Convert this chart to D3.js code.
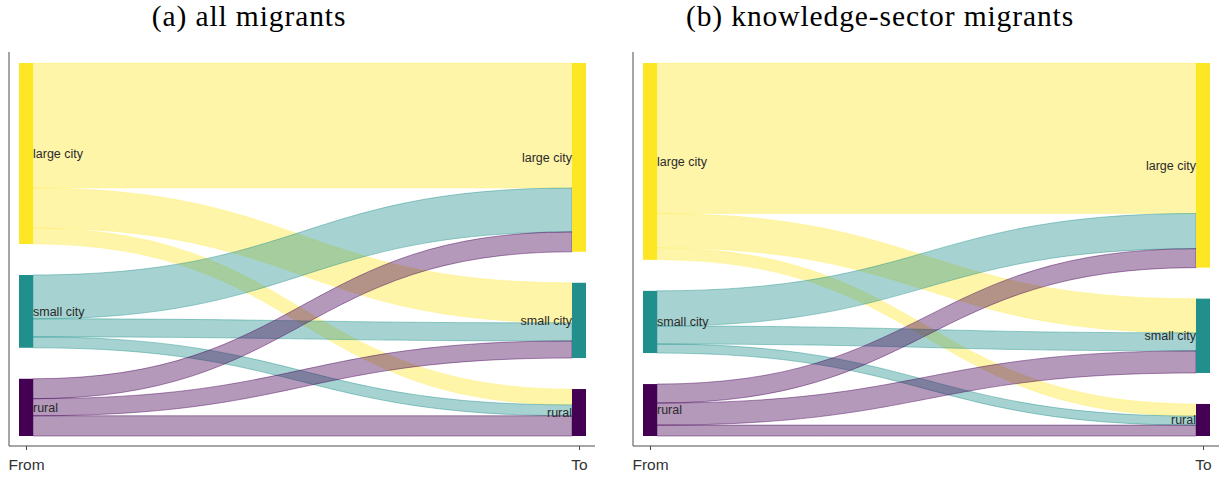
<!DOCTYPE html>
<html>
<head>
<meta charset="utf-8">
<script src="https://cdn.jsdelivr.net/npm/d3@7"></script>
<style>
  html, body { margin: 0; padding: 0; background: #ffffff; }
  svg { display: block; }
</style>
</head>
<body>
<svg id="chart" width="1225" height="477"></svg>
<script>
// Places of origin / destination, in stacking order
const places = ["large city", "small city", "rural"];
const placeColors = ["#FDE725", "#21908C", "#440154"];
const stages = ["From", "To"];
const panelTitles = ["(a) all migrants", "(b) knowledge-sector migrants"];

// Share of moves (%) — rows: origin place, columns: destination place
const allMigrants = [
  [40.2, 12.9, 5.1],
  [14.1, 5.8, 3.5],
  [6.4, 5.5, 6.5]
];
const knowledgeMigrants = [
  [48.4, 11.0, 3.9],
  [11.3, 5.8, 2.9],
  [6.1, 7.1, 3.5]
];

const panelFlows = [allMigrants, knowledgeMigrants];

const svg = d3.select("#chart");

const panelOffset = 624;
const frame = { left: 9, right: 595, top: 52, bottom: 446 };
const plotTop = 63, plotBottom = 436;
const nodeGap = 31;
const nodeW = 14;

panelFlows.forEach((flows, p) => {
  const g = svg.append("g").attr("transform", `translate(${p * panelOffset},0)`);

  // Panel caption
  g.append("text")
    .attr("x", p === 0 ? 249 : 256)
    .attr("y", 26)
    .attr("text-anchor", "middle")
    .attr("font-family", "'Liberation Serif', 'DejaVu Serif', serif")
    .attr("font-size", 29.5)
    .attr("letter-spacing", 0.9)
    .attr("fill", "#000")
    .text(panelTitles[p]);

  const x = d3.scalePoint().domain(stages).range([26, 579]);

  const total = d3.sum(flows.flat());
  const y = d3.scaleLinear()
    .domain([0, total])
    .range([0, (plotBottom - plotTop) - nodeGap * (places.length - 1)]);

  // Node totals on each side
  const outTotals = flows.map(r => d3.sum(r));
  const inTotals = places.map((_, j) => d3.sum(flows, r => r[j]));

  const stackNodes = totals => {
    let cum = 0;
    return totals.map((v, i) => {
      const y0 = plotTop + y(cum) + i * nodeGap;
      cum += v;
      return { i, y0, y1: y0 + y(v) };
    });
  };
  const leftNodes = stackNodes(outTotals);
  const rightNodes = stackNodes(inTotals);

  // Flow bands: at origin ordered by destination, at destination ordered by origin
  const bands = [];
  const srcOffset = leftNodes.map(n => n.y0);
  const dstOffset = rightNodes.map(n => n.y0);
  for (let i = 0; i < places.length; i++) {
    for (let j = 0; j < places.length; j++) {
      const h = y(flows[i][j]);
      bands.push({ i, j, s0: srcOffset[i], s1: srcOffset[i] + h, d0: 0, d1: 0, h });
      srcOffset[i] += h;
    }
  }
  for (let j = 0; j < places.length; j++) {
    for (let i = 0; i < places.length; i++) {
      const b = bands.find(b => b.i === i && b.j === j);
      b.d0 = dstOffset[j];
      b.d1 = dstOffset[j] + b.h;
      dstOffset[j] += b.h;
    }
  }

  const xa = x("From") + nodeW / 2;
  const xb = x("To") - nodeW / 2;
  const xm = (xa + xb) / 2;
  const bandPath = b => {
    const path = d3.path();
    path.moveTo(xa, b.s0);
    path.bezierCurveTo(xm, b.s0, xm, b.d0, xb, b.d0);
    path.lineTo(xb, b.d1);
    path.bezierCurveTo(xm, b.d1, xm, b.s1, xa, b.s1);
    path.closePath();
    return path.toString();
  };

  g.append("g").selectAll("path")
    .data(bands)
    .join("path")
    .attr("d", bandPath)
    .attr("fill", d => placeColors[d.i])
    .attr("fill-opacity", 0.4)
    .attr("stroke", d => placeColors[d.i])
    .attr("stroke-opacity", d => d.i === 0 ? 0.25 : 0.55)
    .attr("stroke-width", 0.8);

  // Nodes and their labels
  const nodeG = g.append("g");
  [[leftNodes, "From"], [rightNodes, "To"]].forEach(([nodes, stage]) => {
    nodeG.selectAll(null)
      .data(nodes)
      .join("rect")
      .attr("x", x(stage) - nodeW / 2)
      .attr("y", d => d.y0)
      .attr("width", nodeW)
      .attr("height", d => d.y1 - d.y0)
      .attr("fill", d => placeColors[d.i]);

    nodeG.selectAll(null)
      .data(nodes)
      .join("text")
      .attr("x", stage === "From" ? x(stage) + nodeW / 2 : x(stage) - nodeW / 2)
      .attr("y", d => (d.y0 + d.y1) / 2)
      .attr("dy", "0.35em")
      .attr("text-anchor", stage === "From" ? "start" : "end")
      .attr("font-family", "'Liberation Sans', Arial, sans-serif")
      .attr("font-size", 12.5)
      .attr("fill", "#2a2a2a")
      .text(d => places[d.i]);
  });

  // Axes
  g.append("line")
    .attr("x1", frame.left).attr("x2", frame.left)
    .attr("y1", frame.top).attr("y2", frame.bottom)
    .attr("stroke", "#4d4d4d").attr("stroke-width", 1);

  const xAxis = g.append("g")
    .attr("transform", `translate(0,${frame.bottom})`)
    .call(d3.axisBottom(x).tickSize(4).tickPadding(9));
  xAxis.select(".domain").remove();
  xAxis.selectAll(".tick line").attr("stroke", "#4d4d4d");
  xAxis.selectAll(".tick text")
    .attr("font-family", "'Liberation Sans', Arial, sans-serif")
    .attr("font-size", 15.5)
    .attr("fill", "#333");
  g.append("line")
    .attr("x1", frame.left).attr("x2", frame.right)
    .attr("y1", frame.bottom).attr("y2", frame.bottom)
    .attr("stroke", "#4d4d4d").attr("stroke-width", 1);
});
</script>
</body>
</html>
